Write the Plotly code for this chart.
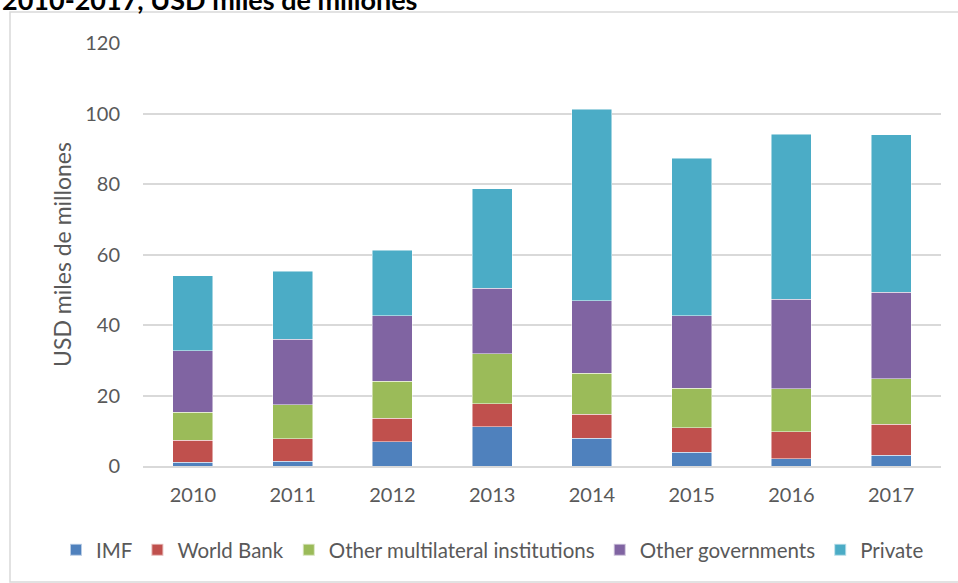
import plotly.graph_objects as go

years = ["2010", "2011", "2012", "2013", "2014", "2015", "2016", "2017"]
imf = [1.0, 1.3, 6.9, 11.1, 7.9, 3.9, 2.1, 3.1]
world_bank = [6.3, 6.4, 6.6, 6.5, 6.8, 6.9, 7.6, 8.7]
other_multilateral = [7.9, 9.7, 10.5, 14.3, 11.6, 11.3, 12.2, 13.0]
other_governments = [17.5, 18.6, 18.6, 18.5, 20.6, 20.5, 25.4, 24.5]
private = [21.3, 19.3, 18.6, 28.2, 54.3, 44.7, 46.8, 44.7]

series = [
    ("IMF", imf, "#4F81BD"),
    ("World Bank", world_bank, "#C0504D"),
    ("Other multilateral institutions", other_multilateral, "#9BBB59"),
    ("Other governments", other_governments, "#8064A2"),
    ("Private", private, "#4BACC6"),
]

FONT = "Lato"
GREY = "#595959"

fig = go.Figure()
for name, vals, col in series:
    fig.add_trace(go.Bar(
        x=years, y=vals, name=name,
        marker=dict(color=col, line=dict(color="rgba(255,255,255,0.6)", width=0.8)),
    ))

W, H = 958, 583
L, R, T, B = 143, 17, 43, 117
pw, ph = W - L - R, H - T - B

def px(x):
    return (x - L) / pw

def py(y):
    return (H - B - y) / ph

fig.update_layout(
    width=W, height=H,
    margin=dict(l=L, r=R, t=T, b=B, autoexpand=False),
    barmode="stack",
    bargap=0.6,
    plot_bgcolor="white",
    paper_bgcolor="white",
    font=dict(family=FONT, color=GREY, size=20),
    showlegend=True,
    legend=dict(
        orientation="h", x=px(56), xanchor="left", y=py(550), yanchor="middle",
        font=dict(size=20.5, color=GREY, family=FONT),
        traceorder="normal", itemwidth=30,
        itemsizing="constant",
    ),
    xaxis=dict(
        showgrid=False, showline=True, linecolor="#D9D9D9", linewidth=1.5,
        ticks="", tickfont=dict(size=20, color=GREY), ticklabelstandoff=10,
    ),
    yaxis=dict(
        range=[0, 120], dtick=20, showgrid=True, gridcolor="#D9D9D9", gridwidth=1.5,
        zeroline=False, showline=False, ticks="", ticklabelstandoff=22,
        tickfont=dict(size=20, color=GREY),
        title=dict(text="USD miles de millones", font=dict(size=23, color=GREY), standoff=7),
    ),
    shapes=[dict(
        type="rect", xref="paper", yref="paper",
        x0=px(10), x1=px(970), y0=py(582), y1=py(12),
        line=dict(color="#D9D9D9", width=1.5), fillcolor="rgba(0,0,0,0)", layer="below",
    )],
    annotations=[dict(
        text="<b>2010-2017, USD miles de millones</b>", xref="paper", yref="paper",
        x=px(0), xanchor="left", y=py(18), yanchor="bottom", showarrow=False,
        font=dict(size=27, color="#000000", family=FONT),
    )],
)

fig.write_html("out.html")
